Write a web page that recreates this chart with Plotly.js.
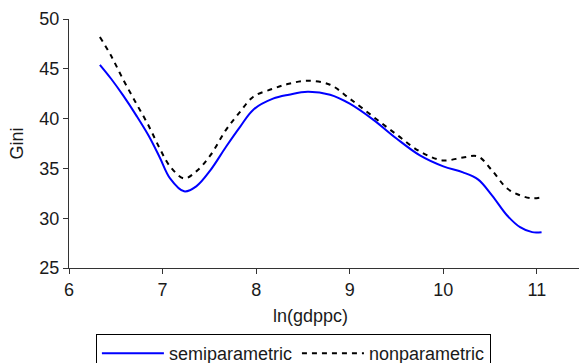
<!DOCTYPE html>
<html>
<head>
<meta charset="utf-8">
<script src="https://cdn.plot.ly/plotly-3.0.1.min.js"></script>
<style>html,body{margin:0;padding:0;background:#fff;}#chart{width:580px;height:363px;}</style>
</head>
<body>
<div id="chart"></div>
<script>
var lnGdppc = [6.33, 6.45, 6.58, 6.72, 6.85, 6.97, 7.08, 7.23, 7.36, 7.51, 7.68, 7.83, 7.97, 8.18, 8.35, 8.55, 8.79, 9.0, 9.25, 9.5, 9.75, 10.0, 10.21, 10.37, 10.52, 10.68, 10.82, 10.95, 11.05];
var semiparametric = [45.4, 44.0, 42.3, 40.3, 38.3, 36.1, 34.0, 32.7, 33.2, 34.8, 37.2, 39.2, 40.9, 42.0, 42.4, 42.7, 42.4, 41.5, 39.9, 38.0, 36.3, 35.2, 34.6, 33.9, 32.3, 30.3, 29.1, 28.6, 28.6];
var nonparametric = [48.2, 46.3, 43.9, 41.5, 39.3, 37.0, 35.2, 34.0, 34.7, 36.3, 38.9, 40.7, 42.2, 43.0, 43.5, 43.8, 43.4, 42.0, 40.2, 38.4, 36.7, 35.8, 36.1, 36.2, 34.8, 33.0, 32.3, 32.0, 32.1];
var xTicks = [6, 7, 8, 9, 10, 11];
var yTicks = [25, 30, 35, 40, 45, 50];
var seriesNames = ['semiparametric', 'nonparametric'];
var xTitle = 'ln(gdppc)';
var yTitle = 'Gini';

var font = {family: '"Liberation Sans", Arial, sans-serif', size: 18, color: '#1a1a1a'};
var traces = [
  {x: lnGdppc, y: semiparametric, name: seriesNames[0], type: 'scatter', mode: 'lines',
   line: {color: '#0000ff', width: 2, shape: 'spline', smoothing: 1}},
  {x: lnGdppc, y: nonparametric, name: seriesNames[1], type: 'scatter', mode: 'lines',
   line: {color: '#000000', width: 2, dash: '5px,5px', shape: 'spline', smoothing: 1}}
];
var layout = {
  width: 580, height: 363,
  margin: {l: 69, r: 1, t: 19, b: 95, pad: 0, autoexpand: false},
  paper_bgcolor: '#fff', plot_bgcolor: '#fff',
  font: font,
  showlegend: true,
  xaxis: {range: [6, 11.45], tickvals: xTicks, ticktext: xTicks.map(String), ticks: 'outside', ticklen: 5,
          tickcolor: '#333', showline: true, linecolor: '#333', linewidth: 1, showgrid: false, zeroline: false,
          tickfont: font, fixedrange: true, automargin: false},
  yaxis: {range: [25, 50], tickvals: yTicks, ticktext: yTicks.map(String), ticks: 'outside', ticklen: 5,
          tickcolor: '#333', showline: true, linecolor: '#333', linewidth: 1, showgrid: false, zeroline: false,
          tickfont: font, title: {text: yTitle, font: font}, fixedrange: true, automargin: false},
  legend: {orientation: 'h', x: 0.44, xanchor: 'center', y: -0.265, yanchor: 'top',
           bordercolor: '#000', borderwidth: 1, itemwidth: 62, font: font, bgcolor: '#fff'},
  annotations: [{text: xTitle, xref: 'paper', yref: 'paper', x: 0.4745, y: -0.193,
                 xanchor: 'center', yanchor: 'middle', showarrow: false, font: font}]
};
Plotly.newPlot('chart', traces, layout, {staticPlot: true});
</script>
</body>
</html>
